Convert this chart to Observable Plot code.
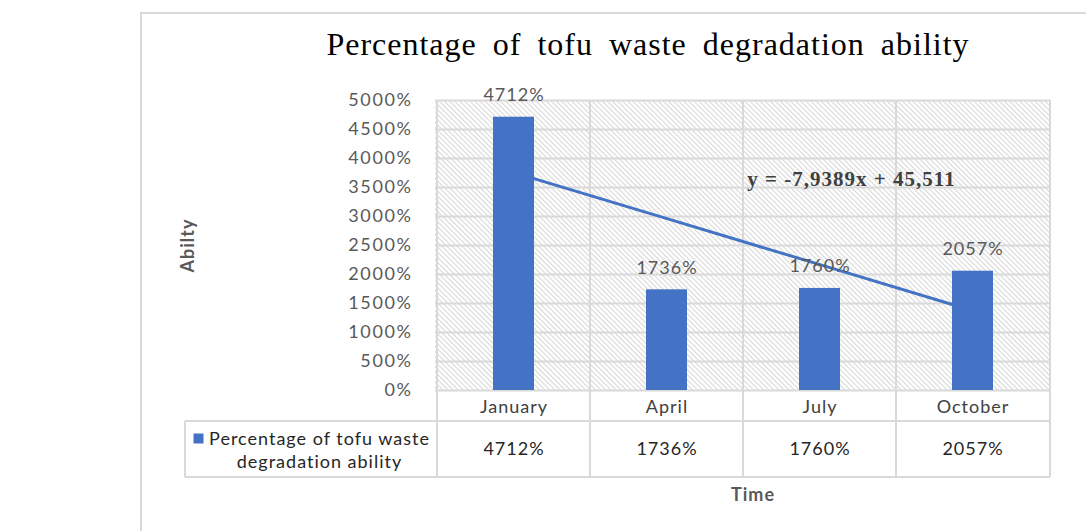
<!DOCTYPE html>
<html>
<head>
<meta charset="utf-8">
<script src="https://cdn.jsdelivr.net/npm/d3@7"></script>
<script src="https://cdn.jsdelivr.net/npm/@observablehq/plot@0.6"></script>
<style>
  html, body { margin: 0; padding: 0; background: #fff; }
  #wrap { position: relative; width: 1086px; height: 531px; overflow: hidden; background: #fff; }
  #border { position: absolute; left: 140px; top: 12px; width: 1100px; height: 700px; border: 2px solid #d9d9d9; box-sizing: border-box; }
  #title { position: absolute; left: 0; width: 1296px; top: 28px; text-align: center; font-family: "Liberation Serif", "Times New Roman", serif; font-size: 32px; line-height: 32px; letter-spacing: 1px; word-spacing: 7px; color: #000; white-space: nowrap; }
  #chart { position: absolute; left: 0; top: 70px; }
  #chart svg text { letter-spacing: 1px; }
  #chart svg g.yax text { letter-spacing: 1.6px; }
</style>
</head>
<body>
<div id="wrap">
  <div id="border"></div>
  <div id="title">Percentage  of tofu waste degradation  ability</div>
  <div id="chart"></div>
</div>
<script>
// ---- data ----
const months = ["January", "April", "July", "October"];
const values = [4712, 1736, 1760, 2057];           // percent
const yTicks = [0, 500, 1000, 1500, 2000, 2500, 3000, 3500, 4000, 4500, 5000];
const seriesName = "Percentage of tofu waste\ndegradation ability";
const trendSlope = [-7.9389];                        // from the trendline equation (fraction units)
const trendIntercept = [45.511];
const equationLabel = "y = -7,9389x + 45,511";
const yTitle = "Abilty";
const xTitle = "Time";

const data = months.map((m, i) => ({month: m, value: values[i]}));
const trend = months.map((m, i) => ({month: m, value: (trendIntercept[0] + trendSlope[0] * (i + 1)) * 100}));

const blue = "#4472C4";
const grey = "#595959";
const lineGrey = "#d9d9d9";
const pct = d => d + "%";

const plot = Plot.plot({
  width: 1086,
  height: 461,
  marginLeft: 435,
  marginRight: 36,
  marginTop: 30,
  marginBottom: 141,
  style: {fontFamily: "Lato, 'Open Sans', sans-serif", fontSize: "18px", background: "none", overflow: "visible"},
  x: {domain: months, padding: 0, axis: null},
  y: {domain: [0, 5000], axis: null},
  marks: [
    Plot.gridY(yTicks, {stroke: lineGrey, strokeOpacity: 1, strokeWidth: 2}),
    Plot.line(trend, {x: "month", y: "value", stroke: blue, strokeWidth: 3}),
    Plot.barY(data, {x: "month", y: "value", fill: blue, insetLeft: 56, insetRight: 56}),
    Plot.text(data, {x: "month", y: "value", text: d => pct(d.value), dy: -22, fill: grey, fontSize: 18}),
    Plot.axisY(yTicks, {tickSize: 0, tickPadding: 23, tickFormat: pct, fill: grey, fontSize: 18, label: null, className: "yax"}),
    Plot.text(months, {x: d => d, frameAnchor: "bottom", lineAnchor: "middle", dy: 17, fill: "#404040", fontSize: 18}),
    Plot.text(data, {x: "month", frameAnchor: "bottom", lineAnchor: "middle", dy: 59, text: d => pct(d.value), fill: "#262626", fontSize: 18}),
    Plot.text([yTitle], {frameAnchor: "left", textAnchor: "middle", lineAnchor: "middle", dx: -247, rotate: -90, fontWeight: "bold", fill: grey, fontSize: 18}),
    Plot.text([xTitle], {frameAnchor: "bottom", textAnchor: "middle", lineAnchor: "middle", dx: 10, dy: 105, fontWeight: "bold", fill: grey, fontSize: 18}),
    Plot.text([seriesName], {frameAnchor: "bottom-left", textAnchor: "middle", lineAnchor: "middle", dx: -116, dy: 59, lineHeight: 1.28, fill: "#262626", fontSize: 18}),
    Plot.dot([seriesName], {frameAnchor: "bottom-left", dx: -237, dy: 48, symbol: "square", r: 5.64, fill: blue, stroke: null}),
    Plot.text([equationLabel], {frameAnchor: "top-left", textAnchor: "middle", lineAnchor: "middle", dx: 416, dy: 79, fontFamily: "'Liberation Serif', 'Times New Roman', serif", fontWeight: "bold", fontSize: 21, fill: "#404040"})
  ]
});

document.getElementById("chart").appendChild(plot);

// ---- background hatch, category dividers and data-table lines, placed with Plot's own scales ----
const svg = d3.select(plot);
const xs = plot.scale("x");
const ys = plot.scale("y");
const x0 = xs.range[0], x1 = xs.range[1];
const yTop = ys.apply(5000), yZero = ys.apply(0);
const rowLine = yZero + 31, tableBottom = yZero + 87, legendLeft = x0 - 250;

svg.insert("defs", ":first-child").html(
  `<pattern id="hatch" width="3.6" height="3.6" patternUnits="userSpaceOnUse" patternTransform="rotate(-45)">
     <rect width="3.6" height="3.6" fill="#ffffff"/>
     <line x1="0.6" y1="0" x2="0.6" y2="3.6" stroke="#d4d4d4" stroke-width="1"/>
   </pattern>`);

const bg = svg.insert("g", "g[aria-label]");
bg.append("rect").attr("x", x0).attr("y", yTop).attr("width", x1 - x0).attr("height", yZero - yTop).attr("fill", "url(#hatch)");

const edges = months.map(m => xs.apply(m)).concat([x1]);
bg.selectAll("line.v").data(edges).join("line")
  .attr("x1", d => d).attr("x2", d => d).attr("y1", yTop).attr("y2", tableBottom)
  .attr("stroke", lineGrey).attr("stroke-width", 2);

const tbl = svg.append("g");
[rowLine, tableBottom].forEach(y => {
  tbl.append("line").attr("x1", legendLeft).attr("x2", x1).attr("y1", y).attr("y2", y)
    .attr("stroke", lineGrey).attr("stroke-width", 2);
});
tbl.append("line").attr("x1", legendLeft).attr("x2", legendLeft).attr("y1", rowLine).attr("y2", tableBottom)
  .attr("stroke", lineGrey).attr("stroke-width", 2);
</script>
</body>
</html>
